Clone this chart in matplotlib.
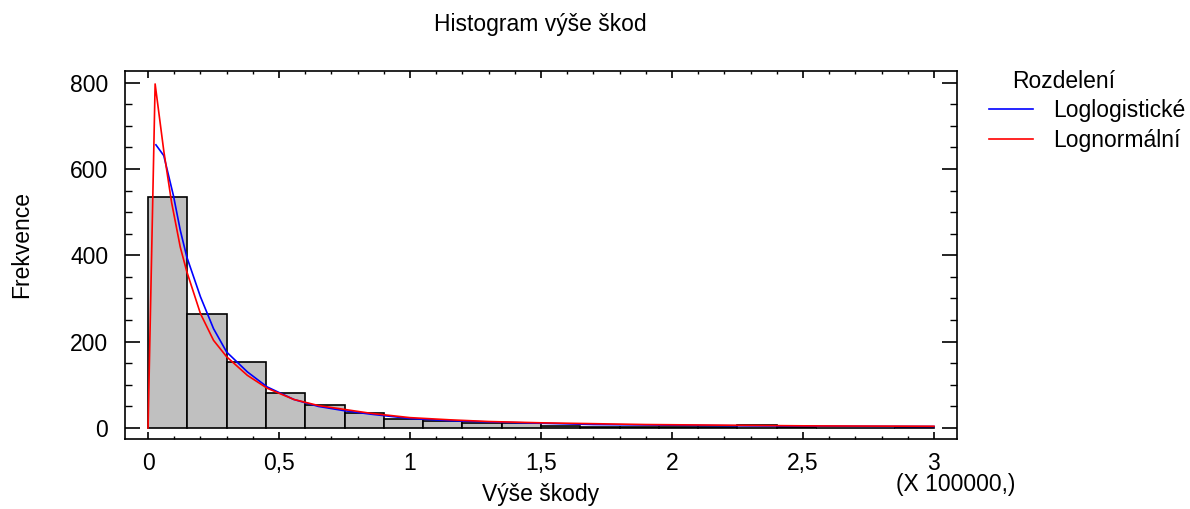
import matplotlib
matplotlib.use("Agg")
import matplotlib.pyplot as plt
from matplotlib.ticker import MultipleLocator
import numpy as np

plt.rcParams['font.family'] = ['Liberation Sans', 'DejaVu Sans']

# Histogram data (x in units of 100000)
bin_edges = [0.0, 0.15, 0.3, 0.45, 0.6, 0.75, 0.9, 1.05, 1.2, 1.35, 1.5,
             1.65, 1.8, 1.95, 2.1, 2.25, 2.4, 2.55, 2.7, 2.85, 3.0]
counts = [536, 265, 152, 80, 54, 34, 21, 17, 12, 11,
          5, 3, 3, 3, 3, 7, 3, 1, 1, 3]

# Fitted curves
loglog_x = [0.03, 0.06, 0.097, 0.123, 0.148, 0.2, 0.25, 0.3, 0.379, 0.455,
            0.557, 0.65, 0.75, 0.85, 1.0, 1.15, 1.3, 1.5, 1.7, 1.9, 2.1,
            2.3, 2.5, 2.7, 3.0]
loglog_y = [656, 631, 538, 458, 396, 304, 230, 176, 130, 95,
            66, 50, 40, 32, 22, 17, 14, 11, 8, 7, 6,
            5, 4.5, 4, 3.5]

lognorm_x = [0.0, 0.027, 0.06, 0.09, 0.123, 0.148, 0.2, 0.25, 0.3, 0.379,
             0.455, 0.557, 0.65, 0.75, 0.85, 1.0, 1.15, 1.3, 1.5, 1.7,
             1.9, 2.1, 2.3, 2.5, 2.7, 3.0]
lognorm_y = [0, 797, 642, 522, 419, 362, 265, 203, 165, 122,
             92, 66, 52, 43, 34, 24, 19, 15, 12, 10,
             8, 7, 6, 5, 4.5, 4]

title = "Histogram výše škod"
xlabel = "Výše škody"
ylabel = "Frekvence"
legend_title = "Rozdelení"
series_names = ["Loglogistické", "Lognormální"]
x_ticks = [0, 0.5, 1, 1.5, 2, 2.5, 3]
x_tick_labels = ["0", "0,5", "1", "1,5", "2", "2,5", "3"]
y_ticks = [0, 200, 400, 600, 800]

W, H = 1190, 509
fig = plt.figure(figsize=(W/100, H/100), dpi=100)
ax = fig.add_axes([125/W, 70/H, (957-125)/W, (439-71)/H])

widths = np.diff(bin_edges)
ax.bar(bin_edges[:-1], counts, width=widths, align='edge',
       color='#c0c0c0', edgecolor='black', linewidth=1.2, zorder=1)

l1, = ax.plot(loglog_x, loglog_y, color='#0000ff', lw=1.2, zorder=3)
l2, = ax.plot(lognorm_x, lognorm_y, color='#ff0000', lw=1.2, zorder=4)

ax.set_xlim(-0.088, 3.088)
ax.set_ylim(-25.5, 827)

ax.set_xticks(x_ticks)
ax.set_xticklabels(x_tick_labels)
ax.set_yticks(y_ticks)
ax.xaxis.set_minor_locator(MultipleLocator(0.1))
ax.yaxis.set_minor_locator(MultipleLocator(50))

fs = 16.5
ax.tick_params(axis='x', which='major', direction='in', length=5, width=1.2,
               top=True, bottom=True, labelsize=fs, pad=9.5)
ax.tick_params(axis='x', which='minor', direction='in', length=2.5, width=1.0,
               top=True, bottom=True)
ax.tick_params(axis='y', which='major', direction='in', length=11, width=1.2,
               left=True, right=True, labelsize=fs, pad=12)
ax.tick_params(axis='y', which='minor', direction='in', length=5, width=1.0,
               left=True, right=True)
for s in ax.spines.values():
    s.set_linewidth(1.2)

fig.text(541/W, 1 - 495/H, xlabel, ha='center', va='center', fontsize=fs)
fig.text(22/W, 1 - 245/H, ylabel, ha='center', va='center', rotation=90, fontsize=fs)
fig.text(540/W, 1 - 25/H, title, ha='center', va='center', fontsize=fs)
fig.text(956/W, 1 - 485/H, "(X 100000,)", ha='center', va='center', fontsize=fs)

fig.text(1012/W, 1 - 81/H, legend_title, ha='left', va='center', fontsize=fs)
fig.legend([l1, l2], series_names, loc='upper left',
           bbox_to_anchor=(989/W, 1 - 99/H), frameon=False, fontsize=fs,
           handlelength=1.92, handletextpad=0.87, labelspacing=0.3, borderpad=0,
           borderaxespad=0)

fig.savefig("out.png", dpi=100)
